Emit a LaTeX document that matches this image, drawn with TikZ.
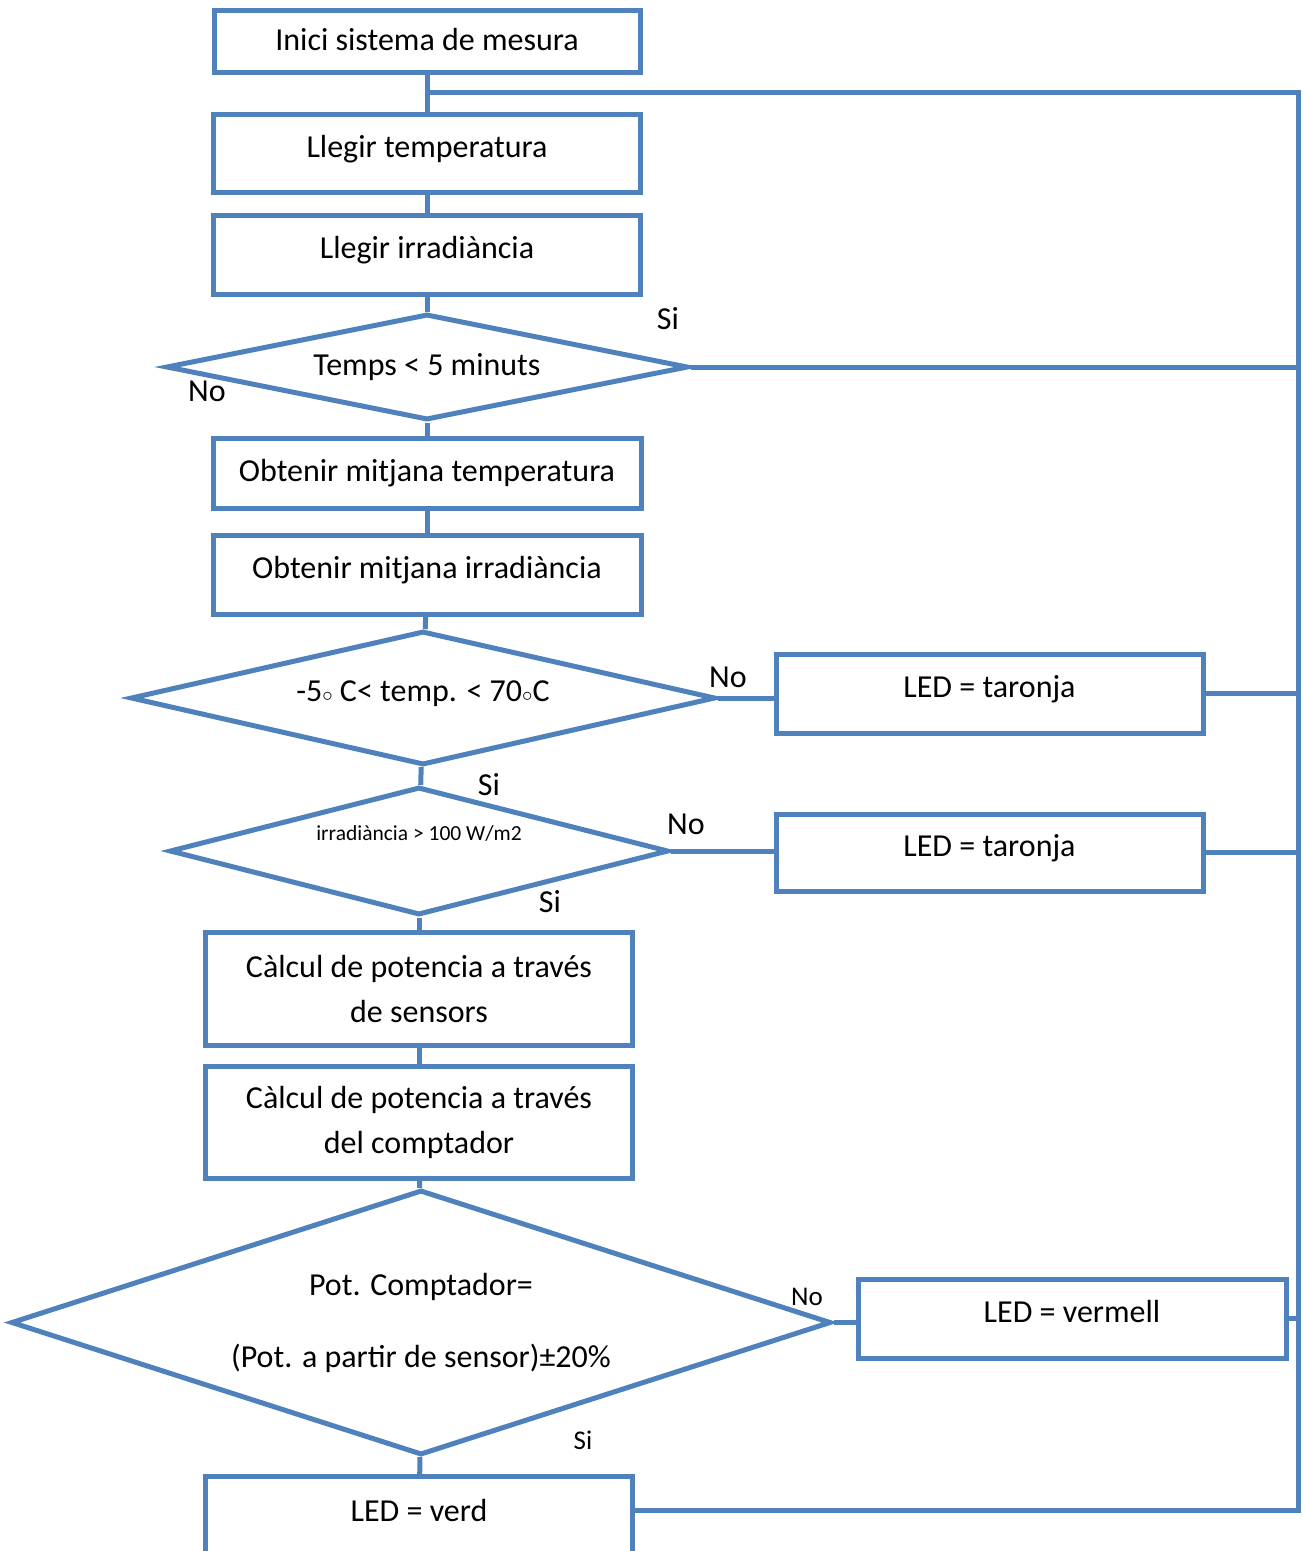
\documentclass[tikz,border=0pt]{standalone}
\usepackage{fontspec}
\setmainfont{Carlito}
\usetikzlibrary{shapes.geometric}
\definecolor{flowblue}{HTML}{4F81BD}

\begin{document}
\begin{tikzpicture}[x=1pt, y=-1pt, line width=5pt, flowblue,
    every node/.style={text=black, font=\fontsize{32}{38}\selectfont},
    box/.style={draw=flowblue, rectangle, minimum width=427pt, minimum height=79pt, inner sep=0pt},
    oneline/.style={box, text height=22pt, text depth=14pt},
    decision/.style={draw=flowblue, diamond, aspect=4, inner sep=0pt},
    lbl/.style={inner sep=0pt}]
    \useasboundingbox (0,0) rectangle (1303,1551);
    \clip (0,0) rectangle (1303,1551);

    \node[box, minimum width=426pt, minimum height=62pt, text height=22pt, text depth=4pt] (start) at (427,41) {Inici sistema de mesura};
    \node[oneline, below of=start, node distance=112pt, minimum height=78pt] (temp) {Llegir temperatura};
    \node[oneline, below of=temp, node distance=101.5pt] (irr) {Llegir irradiància};
    \node[decision, below of=irr, node distance=112.5pt, minimum width=522pt, minimum height=106pt] (d1) {Temps < 5 minuts};
    \node[box, below of=d1, node distance=106pt, minimum width=428pt, minimum height=70pt] (avgT) {Obtenir mitjana temperatura};
    \node[oneline, below of=avgT, node distance=101.5pt, minimum width=428pt] (avgI) {Obtenir mitjana irradiància};
    \node[decision, below of=avgI, node distance=123.5pt, xshift=-4pt, minimum width=585pt, minimum height=134pt,
          text height=22pt, text depth=16pt] (d2) {-5$\scriptstyle\circ$ C< temp. < 70$\scriptstyle\circ$C};
    \node[decision, below of=d2, node distance=153pt, xshift=-4pt, minimum width=499pt, minimum height=128pt,
          font=\fontsize{21.5}{26}\selectfont, text height=15pt, text depth=36pt] (d3) {irradiància > 100 W/m2};
    \node[box, below of=d3, node distance=137.5pt, minimum height=113pt, align=center] (pow1) {Càlcul de potencia a través\\[7pt]de sensors};
    \node[box, below of=pow1, node distance=133.5pt, minimum height=112pt, align=center] (pow2) {Càlcul de potencia a través\\[7pt]del comptador};
    \node[decision, below of=pow2, node distance=200.5pt, xshift=2pt, aspect=3, minimum width=820pt, minimum height=265pt,
          align=center] (d4) {Pot. Comptador=\\[34pt](Pot. a partir de sensor)±20\%};
    \node[box, below of=d4, node distance=238.5pt, xshift=-2pt, minimum height=0pt, inner sep=24pt,
          text height=21pt, text depth=100pt] (verd) {LED = verd};

    \node[oneline, right of=d2, node distance=566.5pt, yshift=4.5pt] (led1) {LED = taronja};
    \node[oneline, below of=led1, node distance=159pt, minimum height=77pt] (led2) {LED = taronja};
    \node[oneline, right of=d4, node distance=651pt, yshift=4pt, minimum width=428pt] (led3) {LED = vermell};

    \coordinate (rtop) at (1298,92);
    \coordinate (rbot) at (1298,1510);

    \draw (start) -- (temp);
    \draw (temp) -- (irr);
    \draw (irr) -- (d1);
    \draw (d1) -- (avgT);
    \draw (avgT) -- (avgI);
    \draw (avgI) -- (d2);
    \draw (d2) -- (d3);
    \draw (d3) -- (pow1);
    \draw (pow1) -- (pow2);
    \draw (pow2) -- (d4);
    \draw (d4) -- (verd);
    \draw (d2.east) -- (d2.east -| led1.west);
    \draw (d3.east) -- (d3.east -| led2.west);
    \draw (d4.east) -- (d4.east -| led3.west);
    \draw (d1.east) -- (d1.east -| rtop);
    \draw (led1.east) -- (led1.east -| rtop);
    \draw (led2.east) -- (led2.east -| rtop);
    \draw (led3.east) -- (led3.east -| rtop);
    \draw (verd.east |- rbot) -- (rbot) -- (rtop) -- (start.south |- rtop);

    \node[lbl] (si1) at (668,319) {Si};
    \node[lbl] (no1) at (207,391) {No};
    \node[lbl] (no2) at (728,677) {No};
    \node[lbl] (si2) at (489,785) {Si};
    \node[lbl] (no3) at (686,824) {No};
    \node[lbl] (si3) at (550,902) {Si};
    \node[lbl, font=\fontsize{27}{32}\selectfont] (no4) at (807,1297) {No};
    \node[lbl, font=\fontsize{27}{32}\selectfont] (si4) at (583,1440) {Si};
\end{tikzpicture}
\end{document}
